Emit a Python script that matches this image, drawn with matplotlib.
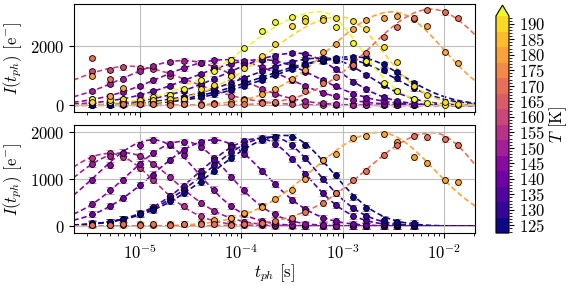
import numpy as np
import matplotlib.pyplot as plt
from matplotlib.colors import BoundaryNorm, to_rgba
from matplotlib.cm import ScalarMappable
from matplotlib.ticker import MultipleLocator

plt.rcParams.update({
    "font.family": "serif",
    "font.serif": ["cmr10"],
    "mathtext.fontset": "cm",
    "axes.formatter.use_mathtext": True,
    "axes.unicode_minus": False,
    "font.size": 12,
})

# phase times of the measurement [s]
t_ph = [3.36e-6, 5.0e-6, 6.72e-6, 1.0e-5, 1.344e-5, 2.0e-5, 2.69e-5, 4.0e-5,
        5.38e-5, 8.0e-5, 1.075e-4, 1.6e-4, 2.15e-4, 3.2e-4, 4.3e-4, 6.4e-4,
        8.6e-4, 1.28e-3, 1.72e-3, 2.56e-3, 3.44e-3, 5.12e-3, 6.88e-3,
        1.024e-2, 1.376e-2]

# ---------------- top panel ----------------
top_temp = [160, 150, 145, 140, 135, 130, 127, 125, 197, 190, 180, 170]
top_amp = [1320, 1510, 1540, 1540, 1760, 1600, 1560, 1640, 3150, 2980, 3150, 3240]
top_tpeak = [8e-6, 2.7e-5, 7e-5, 1.6e-4, 3.5e-4, 6.5e-4, 1.0e-3, 1.3e-3,
             6e-4, 9.5e-4, 3.1e-3, 7.5e-3]
top_wl = [0.6, 0.6, 0.65, 0.7, 0.7, 0.75, 0.8, 0.8, 0.75, 0.7, 0.62, 0.6]
top_wr = [0.6, 0.55, 0.6, 0.55, 0.45, 0.45, 0.5, 0.48, 0.4, 0.42, 0.5, 0.55]

top_I160 = [1160, 1200, 1280, 1260, 1240, 1000, 860, 680, 520, 330, 220, 130,
            80, 40, 20, 15, 10, 12, 10, 8, 10, 12]
top_I150 = [490, 720, 900, 1160, 1330, 1470, 1510, 1440, 1300, 1040, 830, 560,
            400, 220, 140, 70, 35, 15, 10, 12, 10, 8]
top_I145 = [200, 320, 450, 660, 840, 1090, 1250, 1440, 1520, 1540, 1470, 1290,
            1110, 840, 650, 430, 300, 170, 105, 50, 30, 15]
top_I140 = [90, 150, 220, 350, 470, 670, 840, 1060, 1230, 1400, 1490, 1540,
            1500, 1330, 1140, 850, 640, 400, 260, 140, 80, 40]
top_I135 = [30, 55, 90, 150, 230, 360, 500, 710, 900, 1150, 1350, 1560, 1680,
            1760, 1720, 1480, 1210, 800, 540, 280, 150, 60]
top_I130 = [15, 30, 50, 85, 130, 210, 290, 420, 570, 770, 930, 1150, 1300,
            1470, 1550, 1590, 1540, 1300, 1030, 700, 480, 220]
top_I127 = [15, 25, 40, 70, 100, 165, 230, 340, 440, 610, 750, 950, 1110, 1290,
            1400, 1510, 1520, 1470, 1440, 1190, 910, 575]
top_I125 = [10, 20, 30, 50, 75, 125, 180, 280, 370, 520, 660, 860, 1020, 1230,
            1370, 1520, 1600, 1630, 1590, 1380, 1120, 740]
top_I197 = [210, 100, 120, 180, 290, 350, 540, 860, 1170, 1530, 1920, 2520,
            2820, 2970, 2940, 2960, 2640, 2100, 1500, 750, 500, 200, 90, 30, 10]
top_I190 = [120, 180, 210, 180, 180, 210, 220, 540, 690, 990, 1250, 1660, 2060,
            2690, 2860, 2890, 2960, 2860, 2570, 1980, 1470, 650, 350, 120, 45]
top_I180 = [990, 330, 570, 60, 40, 70, 50, 60, 80, 130, 190, 370, 550, 880,
            1200, 1800, 2070, 2570, 2880, 2960, 3000, 2900, 2680, 1810, 1420]
top_I170 = [1590, 890, 60, 40, 50, 30, 40, 30, 50, 40, 50, 80, 130, 250, 500,
            740, 950, 1360, 1760, 2300, 2640, 2960, 3220, 3130, 2940]
top_points = [top_I160, top_I150, top_I145, top_I140, top_I135, top_I130,
              top_I127, top_I125, top_I197, top_I190, top_I180, top_I170]

# ---------------- bottom panel ----------------
bot_temp = [155, 150, 145, 145, 140, 135, 130, 125, 180, 170]
bot_amp = [1550, 1565, 1840, 1810, 1840, 1870, 1900, 1935, 2000, 1995]
bot_tpeak = [5e-6, 7e-6, 1.35e-5, 2.7e-5, 5.4e-5, 1.5e-4, 2.0e-4, 2.7e-4,
             2.3e-3, 7.7e-3]
bot_wl = [0.55, 0.55, 0.55, 0.55, 0.6, 0.6, 0.65, 0.7, 0.65, 0.65]
bot_wr = [0.45, 0.5, 0.45, 0.45, 0.5, 0.45, 0.45, 0.46, 0.54, 0.46]

bot_I155 = [1450, 1560, 1480, 1250, 990, 650, 420, 210, 110, 45, 25, 15, 10,
            12, 10, 15, 10, 8, 12, 10, 10, 12]
bot_I150 = [1330, 1500, 1570, 1490, 1330, 1040, 790, 500, 320, 170, 90, 40, 20,
            15, 12, 10, 10, 12, 10, 8, 10, 15]
bot_I145a = [990, 1310, 1570, 1720, 1840, 1730, 1510, 1120, 780, 430, 250, 110,
             55, 20, 12, 10, 15, 10, 8, 10, 12, 10]
bot_I145b = [470, 760, 990, 1320, 1560, 1750, 1800, 1690, 1450, 1050, 760, 420,
             250, 110, 50, 20, 12, 10, 8, 10, 12, 10]
bot_I140 = [250, 420, 590, 870, 1100, 1420, 1620, 1790, 1840, 1740, 1540, 1180,
            900, 560, 370, 180, 100, 40, 20, 15, 10, 12]
bot_I135 = [45, 90, 150, 270, 400, 650, 860, 1180, 1420, 1690, 1810, 1860, 1760,
            1430, 1120, 700, 450, 220, 120, 50, 30, 20]
bot_I130 = [50, 90, 150, 260, 370, 580, 780, 1070, 1300, 1580, 1740, 1880, 1900,
            1720, 1450, 1010, 710, 390, 220, 90, 45, 30]
bot_I125 = [60, 95, 140, 250, 350, 530, 700, 950, 1170, 1460, 1640, 1840, 1910,
            1910, 1740, 1400, 1090, 630, 390, 140, 90, 70]
bot_I180 = [25, 20, 30, 40, 25, 45, 50, 70, 140, 165, 270, 400, 570, 760, 1000,
            1420, 1540, 1870, 1930, 1970, 1800, 1480, 1340, 980, 950]
bot_I170 = [30, 20, 40, 25, 45, 30, 50, 35, 40, 30, 40, 70, 110, 170, 310, 500,
            700, 990, 1170, 1520, 1720, 1920, 1910, 1850, 1740]
bot_points = [bot_I155, bot_I150, bot_I145a, bot_I145b, bot_I140, bot_I135,
              bot_I130, bot_I125, bot_I180, bot_I170]

err_top = 75
err_bot = 65

levels = np.arange(122.5, 193.0, 5.0)
cmap = plt.get_cmap("plasma")
norm = BoundaryNorm(levels, cmap.N, extend="max")

t_fine = np.logspace(np.log10(2.2e-6), np.log10(2.1e-2), 400)


def fit_curve(t, amp, tpeak, wl, wr):
    # asymmetric log-normal peak used for the dashed fits
    d = np.log10(t / tpeak)
    w = np.where(d < 0, wl, wr)
    return amp * np.exp(-0.5 * (d / w) ** 2)


def draw_panel(ax, temps, amps, tpeaks, wls, wrs, series, err):
    for T, a, tp, wl, wr in zip(temps, amps, tpeaks, wls, wrs):
        ax.plot(t_fine, fit_curve(t_fine, a, tp, wl, wr), color=cmap(norm(T)),
                lw=1.2, ls=(0, (3.2, 1.8)), zorder=1)
    for T, vals in zip(temps, series):
        c = cmap(norm(T))
        ax.errorbar(t_ph[:len(vals)], vals, yerr=err, fmt="o", ms=4.2,
                    mfc=c, mec="k", mew=0.6, ecolor=to_rgba(c, 0.5),
                    elinewidth=1.8, capsize=3, capthick=1.2, zorder=3)
    ax.set_xscale("log")
    ax.grid(True, color="0.75", lw=0.8)
    ax.set_ylabel(r"$I(t_{ph})$ [e$^{-}$]", labelpad=4)


fig = plt.figure(figsize=(5.71, 2.86), dpi=100)
ax_top = fig.add_axes([0.1296, 0.608, 0.703, 0.378])
ax_bot = fig.add_axes([0.1296, 0.185, 0.703, 0.378], sharex=ax_top)
cax = fig.add_axes([0.8686, 0.185, 0.0228, 0.797])

draw_panel(ax_top, top_temp, top_amp, top_tpeak, top_wl, top_wr, top_points, err_top)
draw_panel(ax_bot, bot_temp, bot_amp, bot_tpeak, bot_wl, bot_wr, bot_points, err_bot)

ax_top.set_xlim(2.23e-6, 2.05e-2)
ax_top.set_ylim(-226, 3416)
ax_bot.set_ylim(-150, 2158)
ax_top.yaxis.set_major_locator(MultipleLocator(2000))
ax_bot.yaxis.set_major_locator(MultipleLocator(1000))
ax_top.tick_params(labelbottom=False)
ax_bot.set_xlabel(r"$t_{ph}$ [s]", labelpad=0)

cb = fig.colorbar(ScalarMappable(norm=norm, cmap=cmap), cax=cax, extend="max",
                  ticks=np.arange(125, 191, 5))
cb.ax.yaxis.set_minor_locator(MultipleLocator(1))
cb.set_label(r"$T$ [K]", labelpad=2)

fig.savefig("out.png", dpi=100)
